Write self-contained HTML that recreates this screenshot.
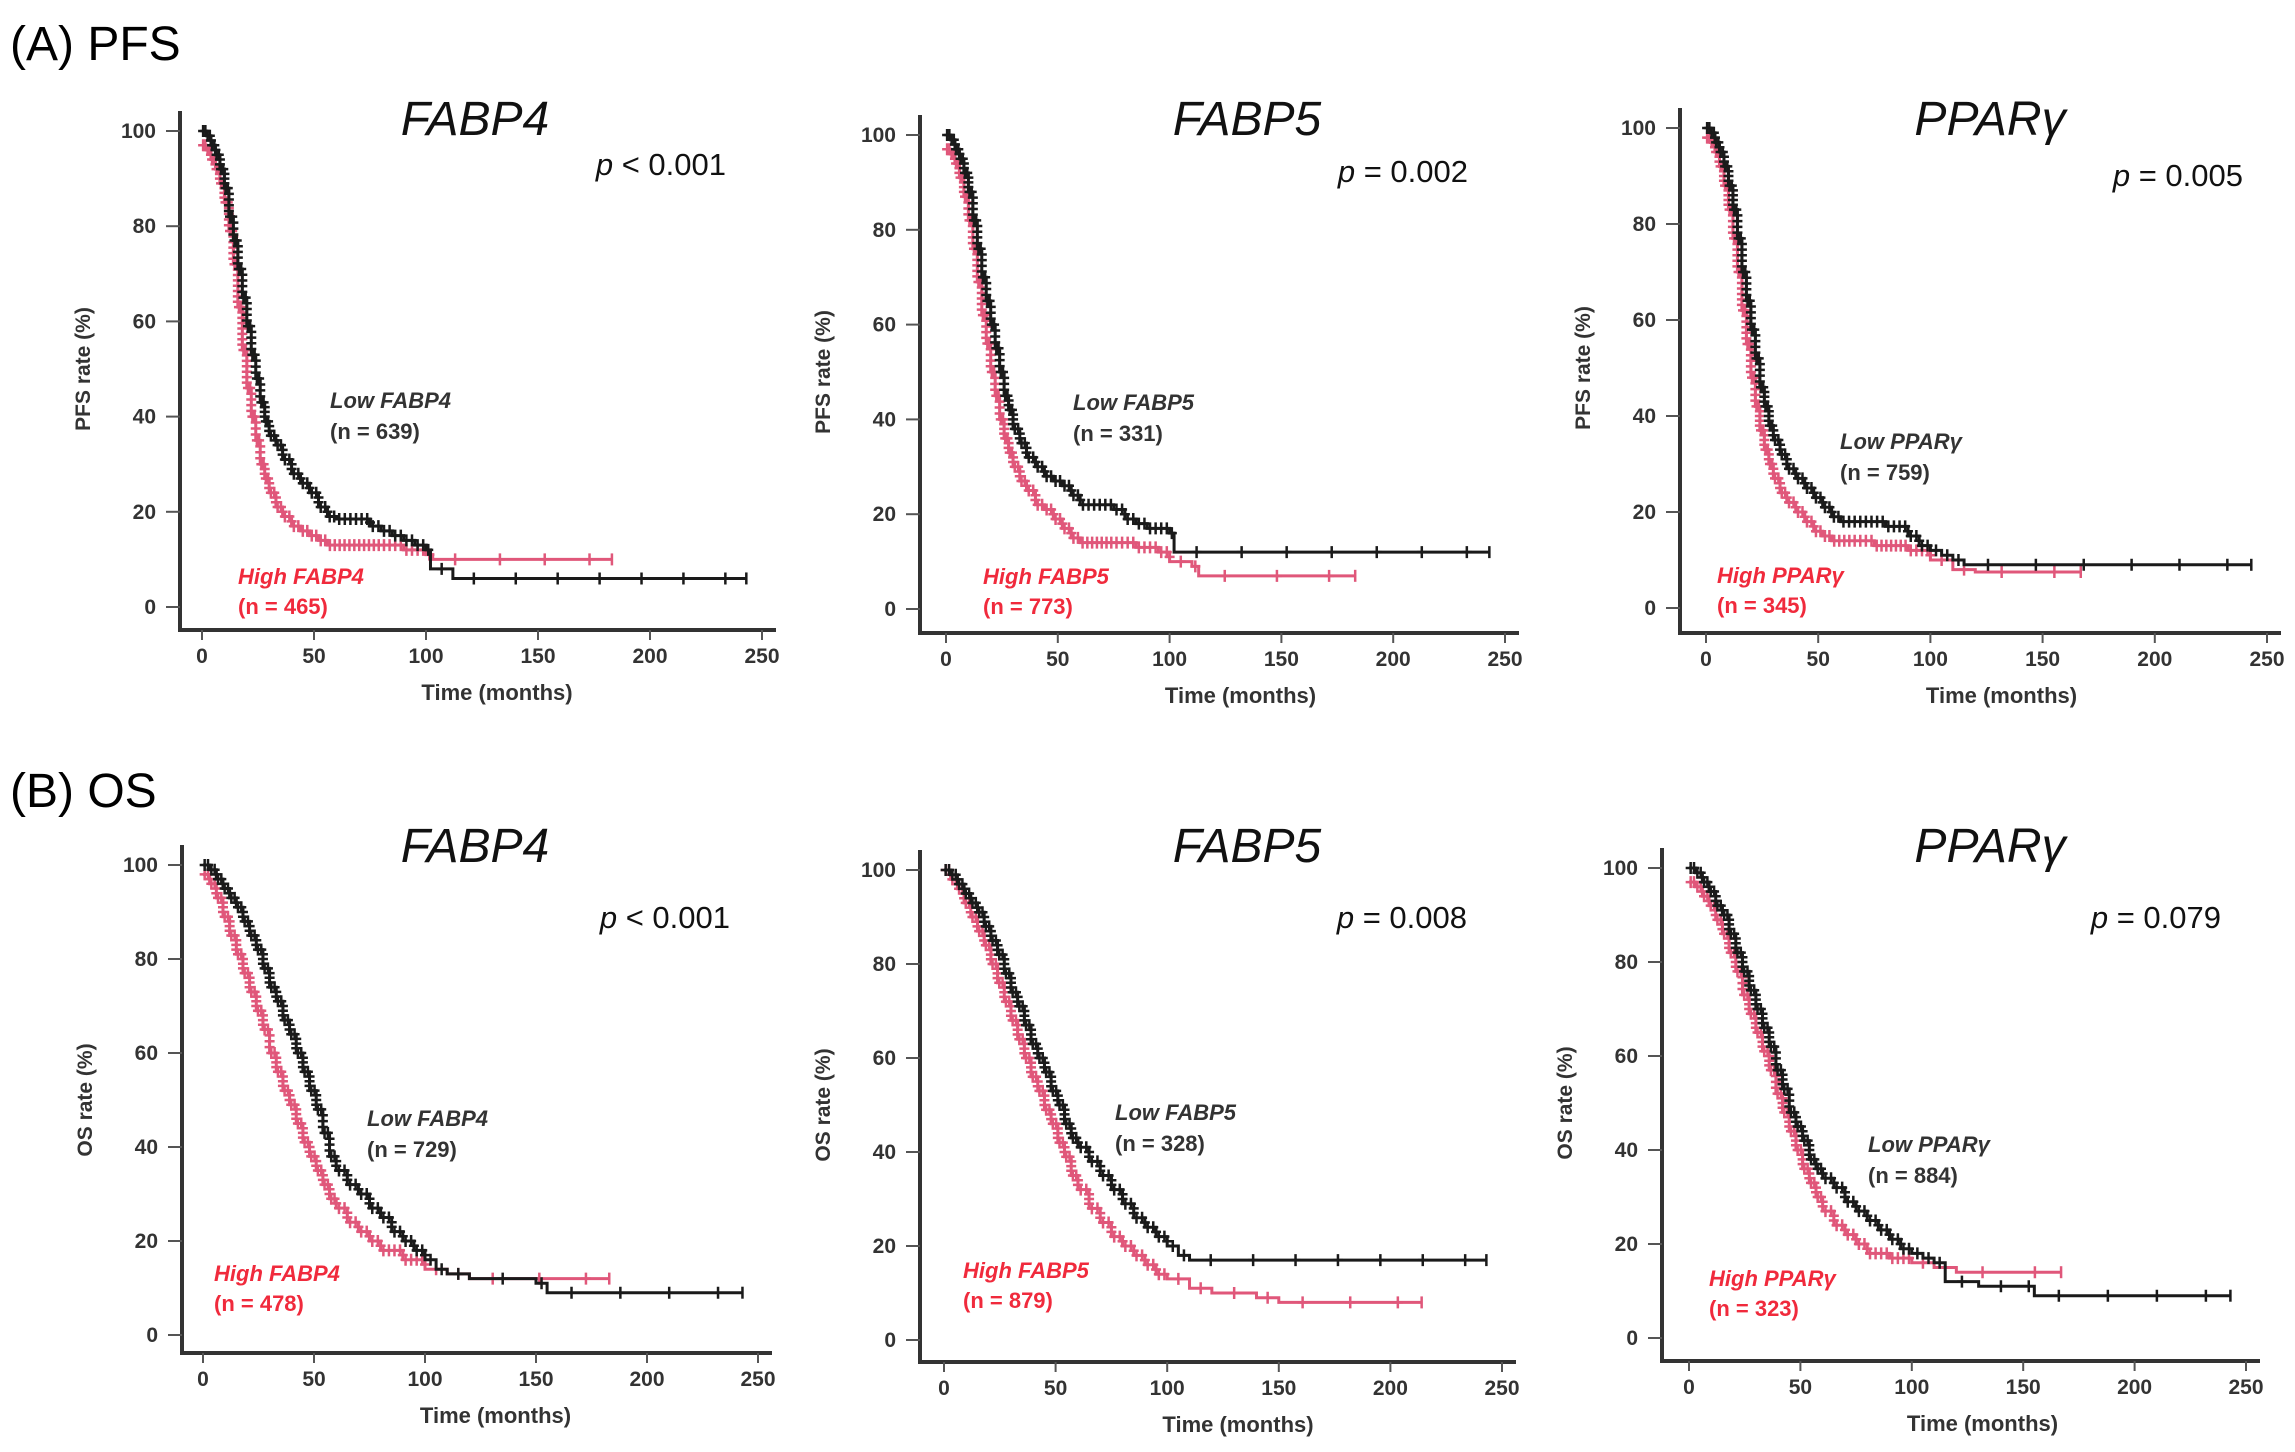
<!DOCTYPE html>
<html><head><meta charset="utf-8">
<style>
html,body{margin:0;padding:0;background:#fff;}
svg{display:block;font-family:"Liberation Sans",Arial,sans-serif;}
</style></head>
<body>
<svg id="fig" width="2295" height="1452" viewBox="0 0 2295 1452">
<text x="10" y="60" font-size="48">(A) PFS</text>
<text x="10" y="807" font-size="48">(B) OS</text>
</svg>
<script>
const xTicks = [0, 50, 100, 150, 200, 250];
const yTicks = [0, 20, 40, 60, 80, 100];

const p1LowT = [0,2,4,6,8,10,12,14,16,18,20,22,24,26,28,30,33,36,40,44,48,52,56,60,70,75,80,85,90,95,100,102,112,243];
const p1LowS = [100,99,97,95,92,88,82,77,71,65,59,53,48,43,39,36,34,31,28,26,24,21,19,18.5,18.5,17,16,15,14,13,12,8,6,6];
const p1HighT = [0,2,4,6,8,10,12,14,16,18,20,22,24,26,28,30,33,36,40,44,48,52,56,80,90,100,103,183];
const p1HighS = [97,96,94,92,89,85,79,72,63,54,46,40,35,30,27,24,21,19,17,16,15,14,13,13,12,11,10,10];

const p2LowT = [0,2,4,6,8,10,12,14,16,18,20,22,24,26,28,30,33,36,40,44,48,52,56,60,70,75,80,85,90,100,102,243];
const p2LowS = [100,99,97,95,92,88,82,76,70,65,60,55,50,45,42,38,35,32,30,28,27,26,24,22,22,21,19,18,17,16,12,12];
const p2HighT = [0,2,4,6,8,10,12,14,16,18,20,22,24,26,28,30,33,36,40,44,48,52,56,60,75,85,95,100,110,113,183];
const p2HighS = [97,96,94,91,87,82,76,69,62,56,50,45,40,36,33,30,27,25,22,21,19,17,15,14,14,13,12,10,9,7,7];

const p3LowT = [0,2,4,6,8,10,12,14,16,18,20,22,24,26,28,30,33,36,40,44,48,52,56,60,70,80,90,95,100,105,110,115,243];
const p3LowS = [100,99,97,95,92,88,83,77,70,64,58,52,46,42,38,35,32,29,27,25,23,21,19,18,18,17,15,13,12,11,10,9,9];
const p3HighT = [0,2,4,6,8,10,12,14,16,18,20,22,24,26,28,30,33,36,40,44,48,52,56,65,75,90,100,110,120,167];
const p3HighS = [98,97,95,92,88,83,77,70,62,55,48,42,37,33,30,27,24,22,20,18,16,15,14,14,13,12,10,8,7.5,7.5];

const p4LowT = [0,3,6,9,12,15,18,21,24,27,30,33,36,39,42,45,48,51,54,57,60,65,70,75,80,85,90,95,100,105,110,120,150,155,243];
const p4LowS = [100,99,97,95,93,91,88,85,82,78,74,71,67,64,60,56,52,48,43,38,35,32,30,27,25,22,20,18,16,14,13,12,11,9,9];
const p4HighT = [0,3,6,9,12,15,18,21,24,27,30,33,36,39,42,45,48,51,54,57,60,65,70,75,80,90,100,110,120,183];
const p4HighS = [98,96,93,89,85,81,77,73,69,65,60,56,52,49,45,41,38,35,32,29,27,24,22,20,18,16,14,13,12,12];

const p5LowT = [0,3,6,9,12,15,18,21,24,27,30,33,36,39,42,45,48,51,54,57,60,65,70,75,80,85,90,95,100,105,110,243];
const p5LowS = [100,99,97,95,93,91,88,85,82,78,74,71,67,63,60,57,53,50,46,43,41,38,35,32,29,26,24,22,20,18,17,17];
const p5HighT = [0,3,6,9,12,15,18,21,24,27,30,33,36,39,42,45,48,51,54,57,60,65,70,75,80,85,90,95,100,110,120,140,150,214];
const p5HighS = [100,98,96,93,90,87,84,80,76,72,68,64,60,56,53,49,46,42,39,35,32,28,25,22,20,18,16,14,13,11,10,9,8,8];

const p6LowT = [0,3,6,9,12,15,18,21,24,27,30,33,36,39,42,45,48,51,54,57,60,65,70,75,80,85,90,95,100,105,110,115,130,150,155,243];
const p6LowS = [100,99,97,95,92,90,86,82,78,74,70,66,62,57,53,48,45,42,38,36,34,32,29,27,25,23,21,19,18,17,16,12,11,11,9,9];
const p6HighT = [0,3,6,9,12,15,18,21,24,27,30,33,36,39,42,45,48,51,54,57,60,65,70,75,80,90,100,110,120,167];
const p6HighS = [97,96,94,92,89,86,82,78,73,69,65,61,57,52,48,44,40,36,33,30,27,24,22,20,18,17,16,15,14,14];

const panels = [
 {id:'pfs-fabp4', ax:180,y100:131,y0:607,xa:630,x0:202,x250:762,gene:'FABP4',yl:'PFS rate (%)',p:'< 0.001',px:586,py:175,
  lowT:p1LowT,lowS:p1LowS,highT:p1HighT,highS:p1HighS,low:'Low FABP4',nl:'(n = 639)',lx:330,ly:408,high:'High FABP4',nh:'(n = 465)',hx:238,hy:584,tx:475,ty:135},
 {id:'pfs-fabp5', ax:920,y100:135,y0:609,xa:633,x0:946,x250:1505,gene:'FABP5',yl:'PFS rate (%)',p:'= 0.002',px:1328,py:182,
  lowT:p2LowT,lowS:p2LowS,highT:p2HighT,highS:p2HighS,low:'Low FABP5',nl:'(n = 331)',lx:1073,ly:410,high:'High FABP5',nh:'(n = 773)',hx:983,hy:584,tx:1247,ty:135},
 {id:'pfs-ppar', ax:1680,y100:128,y0:608,xa:633,x0:1706,x250:2267,gene:'PPAR\u03b3',yl:'PFS rate (%)',p:'= 0.005',px:2103,py:186,
  lowT:p3LowT,lowS:p3LowS,highT:p3HighT,highS:p3HighS,low:'Low PPAR\u03b3',nl:'(n = 759)',lx:1840,ly:449,high:'High PPAR\u03b3',nh:'(n = 345)',hx:1717,hy:583,tx:1990,ty:135},
 {id:'os-fabp4', ax:182,y100:865,y0:1335,xa:1353,x0:203,x250:758,gene:'FABP4',yl:'OS rate (%)',p:'< 0.001',px:590,py:928,
  lowT:p4LowT,lowS:p4LowS,highT:p4HighT,highS:p4HighS,low:'Low FABP4',nl:'(n = 729)',lx:367,ly:1126,high:'High FABP4',nh:'(n = 478)',hx:214,hy:1281,tx:475,ty:862},
 {id:'os-fabp5', ax:920,y100:870,y0:1340,xa:1362,x0:944,x250:1502,gene:'FABP5',yl:'OS rate (%)',p:'= 0.008',px:1327,py:928,
  lowT:p5LowT,lowS:p5LowS,highT:p5HighT,highS:p5HighS,low:'Low FABP5',nl:'(n = 328)',lx:1115,ly:1120,high:'High FABP5',nh:'(n = 879)',hx:963,hy:1278,tx:1247,ty:862},
 {id:'os-ppar', ax:1662,y100:868,y0:1338,xa:1361,x0:1689,x250:2246,gene:'PPAR\u03b3',yl:'OS rate (%)',p:'= 0.079',px:2081,py:928,
  lowT:p6LowT,lowS:p6LowS,highT:p6HighT,highS:p6HighS,low:'Low PPAR\u03b3',nl:'(n = 884)',lx:1868,ly:1152,high:'High PPAR\u03b3',nh:'(n = 323)',hx:1709,hy:1286,tx:1990,ty:862}
];

const NS='http://www.w3.org/2000/svg';
const svg=document.getElementById('fig');
function mk(tag,attrs,parent,txt){const e=document.createElementNS(NS,tag);for(const k in attrs)e.setAttribute(k,attrs[k]);if(txt!==undefined)e.textContent=txt;parent.appendChild(e);return e;}

panels.forEach(P=>{
  const g=mk('g',{},svg);
  
  
  const X=t=>P.x0+(P.x250-P.x0)*t/250;
  const Y=s=>P.y0+(P.y100-P.y0)*s/100;
  const ya=mk('line',{x1:P.ax,y1:P.y100-20,x2:P.ax,y2:P.xa,stroke:'#333','stroke-width':4},g);
  
  
  const xa=mk('line',{x1:P.ax-2,y1:P.xa,x2:P.x250+14,y2:P.xa,stroke:'#333','stroke-width':4},g);
  
  
  yTicks.forEach(v=>{
    mk('line',{x1:P.ax-14,y1:Y(v),x2:P.ax,y2:Y(v),stroke:'#555','stroke-width':2},g);
    const t=mk('text',{x:P.ax-24,y:Y(v)+7,'text-anchor':'end','font-size':21,'font-weight':'bold',fill:'#333'},g,String(v));
    
    
  });
  xTicks.forEach(v=>{
    mk('line',{x1:X(v),y1:P.xa,x2:X(v),y2:P.xa+10,stroke:'#555','stroke-width':2},g);
    const t=mk('text',{x:X(v),y:P.xa+33,'text-anchor':'middle','font-size':21,'font-weight':'bold',fill:'#333'},g,String(v));
    
    
  });
  const xt=mk('text',{x:(P.x0+P.x250)/2+15,y:P.xa+70,'text-anchor':'middle','font-size':22,'font-weight':'bold',fill:'#333'},g,'Time (months)');
  
  
  const cy=(P.y0+P.y100)/2;
  const yt=mk('text',{x:P.ax-90,y:cy,'text-anchor':'middle','font-size':21,'font-weight':'bold',fill:'#333',transform:`rotate(-90 ${P.ax-90} ${cy})`},g,P.yl);
  
  
  const tt=mk('text',{x:P.tx,y:P.ty,'text-anchor':'middle','font-size':48,'font-style':'italic',fill:'#111'},g,P.gene);
  
  
  const pt=mk('text',{x:P.px+140,y:P.py,'text-anchor':'end','font-size':31,fill:'#111'},g);
  
  
  mk('tspan',{'font-style':'italic'},pt,'p ');
  mk('tspan',{},pt,P.p);

  function curve(T,S,color,name){
    let d=`M${X(T[0])},${Y(S[0])}`;
    for(let i=1;i<T.length;i++){d+=` H${X(T[i])} V${Y(S[i])}`;}
    const path=mk('path',{d:d,fill:'none',stroke:color,'stroke-width':3},g);
    
    
    for(let i=0;i<T.length-1;i++){
      const w=X(T[i+1])-X(T[i]);
      const early=T[i]<100;
      const n=early?Math.max(2,Math.round(w/5)):Math.max(1,Math.round(w/45));
      for(let k=0;k<n;k++){
        const t=T[i]+(T[i+1]-T[i])*(k+0.5)/n;
        const cx=X(t),cyy=Y(S[i]);
        const m=mk('path',{d:`M${cx-5},${cyy} H${cx+5} M${cx},${cyy-6} V${cyy+6}`,stroke:color,'stroke-width':2.5},g);
        
        
      }
      if(early){
        // marks along the vertical drop too, to mimic dense overlapping ticks
        const h=Math.abs(Y(S[i+1])-Y(S[i]));
        const nv=Math.floor(h/6);
        for(let k=1;k<=nv;k++){
          const cx=X(T[i+1]),cyy=Y(S[i])+(Y(S[i+1])-Y(S[i]))*k/(nv+1);
          const m=mk('path',{d:`M${cx-5},${cyy} H${cx+5} M${cx},${cyy-5} V${cyy+5}`,stroke:color,'stroke-width':2.5},g);
          
          
        }
      }
    }
    const li=T.length-1;
    mk('path',{d:`M${X(T[li])},${Y(S[li])-6} V${Y(S[li])+6}`,stroke:color,'stroke-width':2.5},g);
  }
  curve(P.highT,P.highS,'#e0577a',P.id+'-high');
  curve(P.lowT,P.lowS,'#1a1a1a',P.id+'-low');

  const l1=mk('text',{x:P.lx,y:P.ly,'font-size':22,'font-weight':'bold','font-style':'italic',fill:'#333'},g,P.low);
  
  
  const l2=mk('text',{x:P.lx,y:P.ly+31,'font-size':22,'font-weight':'bold',fill:'#333'},g,P.nl);
  
  
  const h1=mk('text',{x:P.hx,y:P.hy,'font-size':22,'font-weight':'bold','font-style':'italic',fill:'#f02a3c'},g,P.high);
  
  
  const h2=mk('text',{x:P.hx,y:P.hy+30,'font-size':22,'font-weight':'bold',fill:'#f02a3c'},g,P.nh);
  
  
});
</script>
</body></html>
